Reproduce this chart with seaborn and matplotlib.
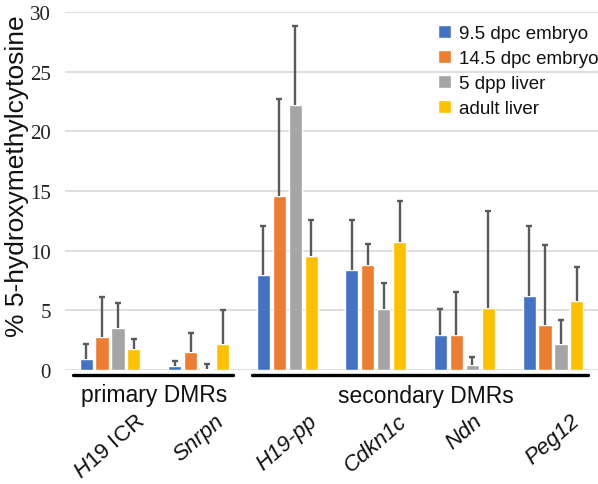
import matplotlib
matplotlib.use("Agg")
import matplotlib.pyplot as plt
import seaborn as sns
import pandas as pd
import numpy as np

# ---- data ----
regions = ["H19 ICR", "Snrpn", "H19-pp", "Cdkn1c", "Ndn", "Peg12"]
series = ["9.5 dpc embryo", "14.5 dpc embryo", "5 dpp liver", "adult liver"]
means = {
    "9.5 dpc embryo":  [0.92, 0.30, 8.00, 8.40, 2.95, 6.20],
    "14.5 dpc embryo": [2.75, 1.50, 14.55, 8.80, 2.95, 3.80],
    "5 dpp liver":     [3.50, 0.10, 22.20, 5.10, 0.40, 2.20],
    "adult liver":     [1.75, 2.15, 9.55, 10.70, 5.20, 5.80],
}
errs = {
    "9.5 dpc embryo":  [1.28, 0.45, 4.10, 4.20, 2.15, 5.90],
    "14.5 dpc embryo": [3.35, 1.60, 8.15, 1.80, 3.55, 6.70],
    "5 dpp liver":     [2.10, 0.40, 6.60, 2.20, 0.65, 2.00],
    "adult liver":     [0.85, 2.85, 3.05, 3.50, 8.10, 2.80],
}
colors = ["#4472C4", "#ED7D31", "#A5A5A5", "#FFC000"]
tick_labels = [r"$\mathit{H19}$ ICR", "Snrpn", "H19-pp", "Cdkn1c", "Ndn", "Peg12"]
yticks = [0, 5, 10, 15, 20, 25, 30]

rows = []
for s in series:
    for r, v in zip(regions, means[s]):
        rows.append({"region": r, "series": s, "value": v})
df = pd.DataFrame(rows)

sns.set_theme(style="white")
plt.rcParams["font.family"] = ["Liberation Sans", "DejaVu Sans"]
plt.rcParams["mathtext.fontset"] = "custom"
plt.rcParams["mathtext.it"] = "Liberation Sans:italic"
plt.rcParams["mathtext.rm"] = "Liberation Sans"

fig = plt.figure(figsize=(5.98, 4.85), dpi=100)
ax = fig.add_axes([65 / 598, 1 - 371 / 485, 533 / 598, 358 / 485])

sns.barplot(data=df, x="region", y="value", hue="series", order=regions,
            hue_order=series, palette=colors, saturation=1, width=0.72,
            gap=0.18, errorbar=None, legend=True, ax=ax, zorder=2)

for cont, s in zip(ax.containers, series):
    xs = np.array([b.get_x() + b.get_width() / 2 for b in cont])
    hs = np.array([b.get_height() for b in cont])
    tops = hs + np.array(errs[s])
    ax.vlines(xs, hs, tops, color="#595959", linewidth=1.7, zorder=3)
    ax.plot(xs, tops, ls="none", marker="_", ms=4.5, mew=1.7,
            color="#595959", zorder=3)

ax.set_ylim(0, 30)
ax.set_xlim(-0.508, 5.508)
ax.set_yticks(yticks)
ax.set_yticklabels([str(t) for t in yticks], family="Liberation Serif",
                   fontsize=15, color="#222222")
ax.tick_params(axis="y", length=0, pad=10)
ax.tick_params(axis="x", length=0, pad=29)
ax.grid(axis="y", color="#d9d9d9", linewidth=1.2, zorder=0)
ax.set_axisbelow(True)
for sp in ax.spines.values():
    sp.set_visible(False)

ax.set_xlabel("")
ax.set_ylabel("% 5-hydroxymethylcytosine", fontsize=19, color="#111111")
ax.yaxis.set_label_coords(-0.068, 0.545)

ax.set_xticks(range(len(regions)))
ax.set_xticklabels(tick_labels, rotation=41, ha="center", va="top",
                   fontsize=16, color="#111111")
for t in ax.get_xticklabels()[1:]:
    t.set_fontstyle("italic")

# group brackets
trans = ax.get_xaxis_transform()
ax.plot([-0.418, 1.388], [-0.014, -0.014], color="black", lw=2.4,
        transform=trans, clip_on=False)
ax.plot([1.603, 5.395], [-0.014, -0.014], color="black", lw=2.4,
        transform=trans, clip_on=False)
ax.text(0.497, -0.068, "primary DMRs", transform=trans, ha="center",
        va="center", fontsize=16.5, color="#111111")
ax.text(3.57, -0.072, "secondary DMRs", transform=trans, ha="center",
        va="center", fontsize=16.5, color="#111111")

leg = ax.legend(loc="upper left", bbox_to_anchor=(0.70, 0.965), frameon=False,
                fontsize=13.5, handlelength=0.7, handleheight=0.7,
                handletextpad=0.42, labelspacing=0.42, borderpad=0,
                borderaxespad=0)
for txt in leg.get_texts():
    txt.set_color("#111111")

fig.savefig("out.png", dpi=100)
